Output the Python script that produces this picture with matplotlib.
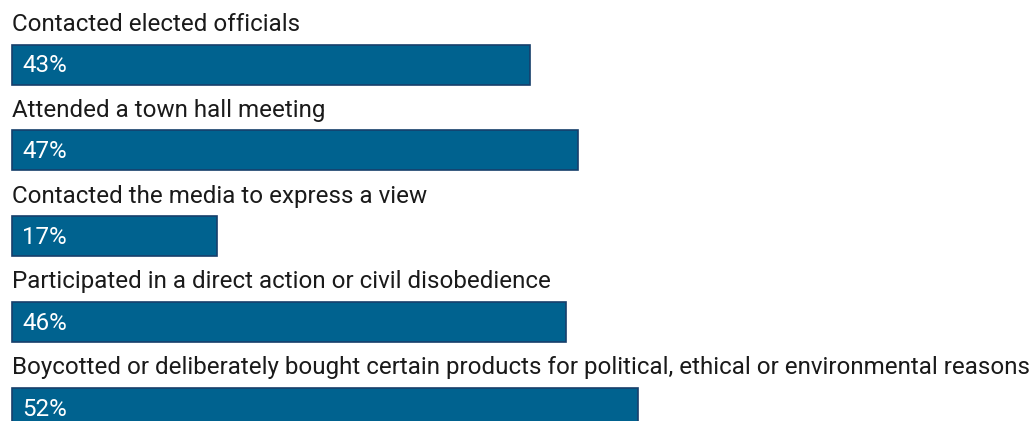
import matplotlib
matplotlib.use("Agg")
import matplotlib.pyplot as plt

categories = [
    "Contacted elected officials",
    "Attended a town hall meeting",
    "Contacted the media to express a view",
    "Participated in a direct action or civil disobedience",
    "Boycotted or deliberately bought certain products for political, ethical or environmental reasons",
]
values = [43, 47, 17, 46, 52]
value_labels = ["43%", "47%", "17%", "46%", "52%"]

W, H, DPI = 1034, 421, 100
fig = plt.figure(figsize=(W / DPI, H / DPI), dpi=DPI)
ax = fig.add_axes([0, 0, 1, 1])

px_per_unit_x = 12.04
x0_px = 12
ax.set_xlim(-x0_px / px_per_unit_x, (W - x0_px) / px_per_unit_x)
spacing = 85.8
first_center = 64.5
ax.set_ylim((H - first_center) / spacing, -first_center / spacing)

bar_color = "#00628f"
edge_color = "#173f6b"
positions = list(range(len(values)))
ax.barh(positions, values, height=40 / spacing, left=0, color=bar_color,
        edgecolor=edge_color, linewidth=1.2)

font = ["Roboto", "DejaVu Sans"]
for i, (cat, v, lab) in enumerate(zip(categories, values, value_labels)):
    ax.text(0, i - 33.5 / spacing, cat, ha="left", va="baseline",
            fontsize=17.35, color="#1a1a1a", family=font)
    ax.text(10 / px_per_unit_x, i + 1.5 / spacing, lab, ha="left", va="center",
            fontsize=17.35, color="white", family=font)

ax.axis("off")
fig.savefig("out.png", dpi=DPI)
